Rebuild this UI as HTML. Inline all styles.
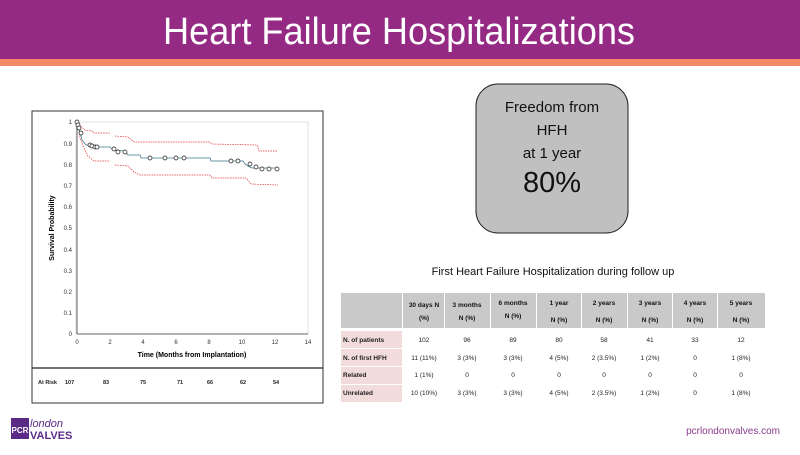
<!DOCTYPE html>
<html><head><meta charset="utf-8"><style>
body{margin:0;width:800px;height:450px;overflow:hidden;background:#fff;font-family:"Liberation Sans",sans-serif}
</style></head><body>
<svg width="800" height="450" xmlns="http://www.w3.org/2000/svg" font-family="Liberation Sans, sans-serif">
<rect x="0" y="0" width="800" height="59" fill="#952a85"/>
<rect x="0" y="59" width="800" height="7" fill="#f58a68"/>
<text x="163" y="44" font-size="38" fill="#fff" textLength="472" lengthAdjust="spacingAndGlyphs">Heart Failure Hospitalizations</text>

<!-- chart frame -->
<rect x="32" y="111" width="291" height="292" fill="#fff" stroke="#333" stroke-width="1"/>
<line x1="32" y1="368" x2="323" y2="368" stroke="#222" stroke-width="1.2"/>
<rect x="76" y="122" width="232" height="212" fill="none" stroke="#ccc" stroke-width="0.6"/>
<line x1="77" y1="122" x2="77" y2="334" stroke="#666"/>
<line x1="77" y1="334" x2="308" y2="334" stroke="#666"/>
<g font-size="6" fill="#333" text-anchor="end">
<text x="72" y="124">1</text><text x="72" y="146">0.9</text><text x="72" y="167">0.8</text><text x="72" y="188">0.7</text><text x="72" y="209">0.6</text><text x="72" y="230">0.5</text><text x="72" y="252">0.4</text><text x="72" y="273">0.3</text><text x="72" y="294">0.2</text><text x="72" y="315">0.1</text><text x="72" y="336">0</text>
</g>
<g font-size="6" fill="#333" text-anchor="middle">
<text x="77" y="344">0</text><text x="110" y="344">2</text><text x="143" y="344">4</text><text x="176" y="344">6</text><text x="209" y="344">8</text><text x="242" y="344">10</text><text x="275" y="344">12</text><text x="308" y="344">14</text>
</g>
<text x="192" y="357" font-size="7" font-weight="bold" text-anchor="middle">Time  (Months from Implantation)</text>
<text x="54" y="228" font-size="7" font-weight="bold" text-anchor="middle" transform="rotate(-90 54 228)">Survival Probability</text>
<g font-size="5.5" font-weight="bold" fill="#222">
<text x="38" y="384">At Risk</text><text x="65" y="384">107</text><text x="103" y="384">83</text><text x="140" y="384">75</text><text x="177" y="384">71</text><text x="207" y="384">66</text><text x="240" y="384">62</text><text x="273" y="384">54</text>
</g>
<!-- CI -->
<path d="M78 122 L79 125 L85 130 L92 131 L94 133 L100 133 L110 133" fill="none" stroke="#d33" stroke-width="0.7" stroke-dasharray="1.5,1"/>
<path d="M115 136 L128 137 L134 142 L210 142 L212 144 L257 145 L259 151 L278 151" fill="none" stroke="#d33" stroke-width="0.7" stroke-dasharray="1.5,1"/>
<path d="M78 124 L80 138 L87 155 L94 161 L110 161" fill="none" stroke="#d33" stroke-width="0.7" stroke-dasharray="1.5,1"/>
<path d="M115 165 L128 166 L134 172 L140 175 L210 175 L212 178 L246 178 L251 184 L278 185" fill="none" stroke="#d33" stroke-width="0.7" stroke-dasharray="1.5,1"/>
<!-- KM -->
<path d="M77 122 L78 127 L80 132 L82 140 L86 145 L92 145 L93 147 L110 147 L113 150 L125 151 L128 155 L140 155 L141 158 L210 158 L211 161 L243 161 L245 164 L248 166 L252 168 L278 168" fill="none" stroke="#3a7a8a" stroke-width="0.8"/>
<g fill="#fff" stroke="#111" stroke-width="0.7">
<circle cx="77" cy="122" r="2"/><circle cx="78" cy="125" r="2"/><circle cx="79" cy="128" r="2"/><circle cx="81" cy="133" r="2"/>
<circle cx="90" cy="145" r="2"/><circle cx="92" cy="146" r="2"/><circle cx="95" cy="147" r="2"/><circle cx="97" cy="147" r="2"/>
<circle cx="114" cy="149" r="2"/><circle cx="118" cy="152" r="2"/><circle cx="125" cy="152" r="2"/>
<circle cx="150" cy="158" r="2"/><circle cx="165" cy="158" r="2"/><circle cx="176" cy="158" r="2"/><circle cx="184" cy="158" r="2"/>
<circle cx="231" cy="161" r="2"/><circle cx="238" cy="161" r="2"/><circle cx="250" cy="164" r="2"/><circle cx="256" cy="167" r="2"/><circle cx="262" cy="169" r="2"/><circle cx="269" cy="169" r="2"/><circle cx="277" cy="169" r="2"/>
</g>

<!-- box -->
<rect x="476" y="84" width="152" height="149" rx="22" fill="#c0c0c0" stroke="#222" stroke-width="1"/>
<g text-anchor="middle" fill="#111">
<text x="552" y="112" font-size="15">Freedom from</text>
<text x="552" y="135" font-size="15">HFH</text>
<text x="552" y="158" font-size="15">at 1 year</text>
<text x="552" y="192" font-size="29">80%</text>
</g>

<text x="553" y="275" font-size="11" text-anchor="middle" fill="#111">First Heart Failure Hospitalization during follow up</text>

<!-- table -->
<g>
<rect x="341" y="293" width="61" height="35" fill="#c9c9c9"/>
<rect x="403" y="293" width="41" height="35" fill="#c9c9c9"/>
<rect x="445" y="293" width="45" height="35" fill="#c9c9c9"/>
<rect x="491" y="293" width="45" height="35" fill="#c9c9c9"/>
<rect x="537" y="293" width="44" height="35" fill="#c9c9c9"/>
<rect x="582" y="293" width="45" height="35" fill="#c9c9c9"/>
<rect x="628" y="293" width="44" height="35" fill="#c9c9c9"/>
<rect x="673" y="293" width="44" height="35" fill="#c9c9c9"/>
<rect x="718" y="293" width="47" height="35" fill="#c9c9c9"/>
<rect x="341" y="331" width="61" height="17" fill="#f2dcdb"/>
<rect x="341" y="349" width="61" height="17" fill="#f2dcdb"/>
<rect x="341" y="367" width="61" height="17" fill="#f2dcdb"/>
<rect x="341" y="385" width="61" height="17" fill="#f2dcdb"/>
</g>
<g font-size="6.5" font-weight="bold" text-anchor="middle" fill="#111">
<text x="424" y="307">30 days N</text><text x="424" y="320">(%)</text>
<text x="467" y="307">3 months</text><text x="467" y="320">N (%)</text>
<text x="513" y="305">6 months</text><text x="513" y="318">N (%)</text>
<text x="559" y="305">1 year</text><text x="559" y="322">N (%)</text>
<text x="604" y="305">2 years</text><text x="604" y="322">N (%)</text>
<text x="650" y="305">3 years</text><text x="650" y="322">N (%)</text>
<text x="695" y="305">4 years</text><text x="695" y="322">N (%)</text>
<text x="741" y="305">5 years</text><text x="741" y="322">N (%)</text>
</g>
<g font-size="6.5" font-weight="bold" fill="#222">
<text x="343" y="342">N. of patients</text><text x="343" y="360">N. of first HFH</text><text x="343" y="377">Related</text><text x="343" y="395">Unrelated</text>
</g>
<g font-size="6.5" text-anchor="middle" fill="#222">
<text x="424" y="342">102</text><text x="467" y="342">96</text><text x="513" y="342">89</text><text x="559" y="342">80</text><text x="604" y="342">58</text><text x="650" y="342">41</text><text x="695" y="342">33</text><text x="741" y="342">12</text>
<text x="424" y="360">11 (11%)</text><text x="467" y="360">3 (3%)</text><text x="513" y="360">3 (3%)</text><text x="559" y="360">4 (5%)</text><text x="604" y="360">2 (3.5%)</text><text x="650" y="360">1 (2%)</text><text x="695" y="360">0</text><text x="741" y="360">1 (8%)</text>
<text x="424" y="377">1 (1%)</text><text x="467" y="377">0</text><text x="513" y="377">0</text><text x="559" y="377">0</text><text x="604" y="377">0</text><text x="650" y="377">0</text><text x="695" y="377">0</text><text x="741" y="377">0</text>
<text x="424" y="395">10 (10%)</text><text x="467" y="395">3 (3%)</text><text x="513" y="395">3 (3%)</text><text x="559" y="395">4 (5%)</text><text x="604" y="395">2 (3.5%)</text><text x="650" y="395">1 (2%)</text><text x="695" y="395">0</text><text x="741" y="395">1 (8%)</text>
</g>

<!-- footer -->
<rect x="11" y="418" width="18" height="21" fill="#5b2a86"/>
<text x="20" y="433" font-size="8" font-weight="bold" fill="#fff" text-anchor="middle">PCR</text>
<text x="30" y="427" font-size="11" font-style="italic" fill="#5b2a86">london</text>
<text x="30" y="439" font-size="11" font-weight="bold" fill="#5b2a86">VALVES</text>
<text x="780" y="434" font-size="10" fill="#8a3a8a" text-anchor="end">pcrlondonvalves.com</text>
</svg>
</body></html>
